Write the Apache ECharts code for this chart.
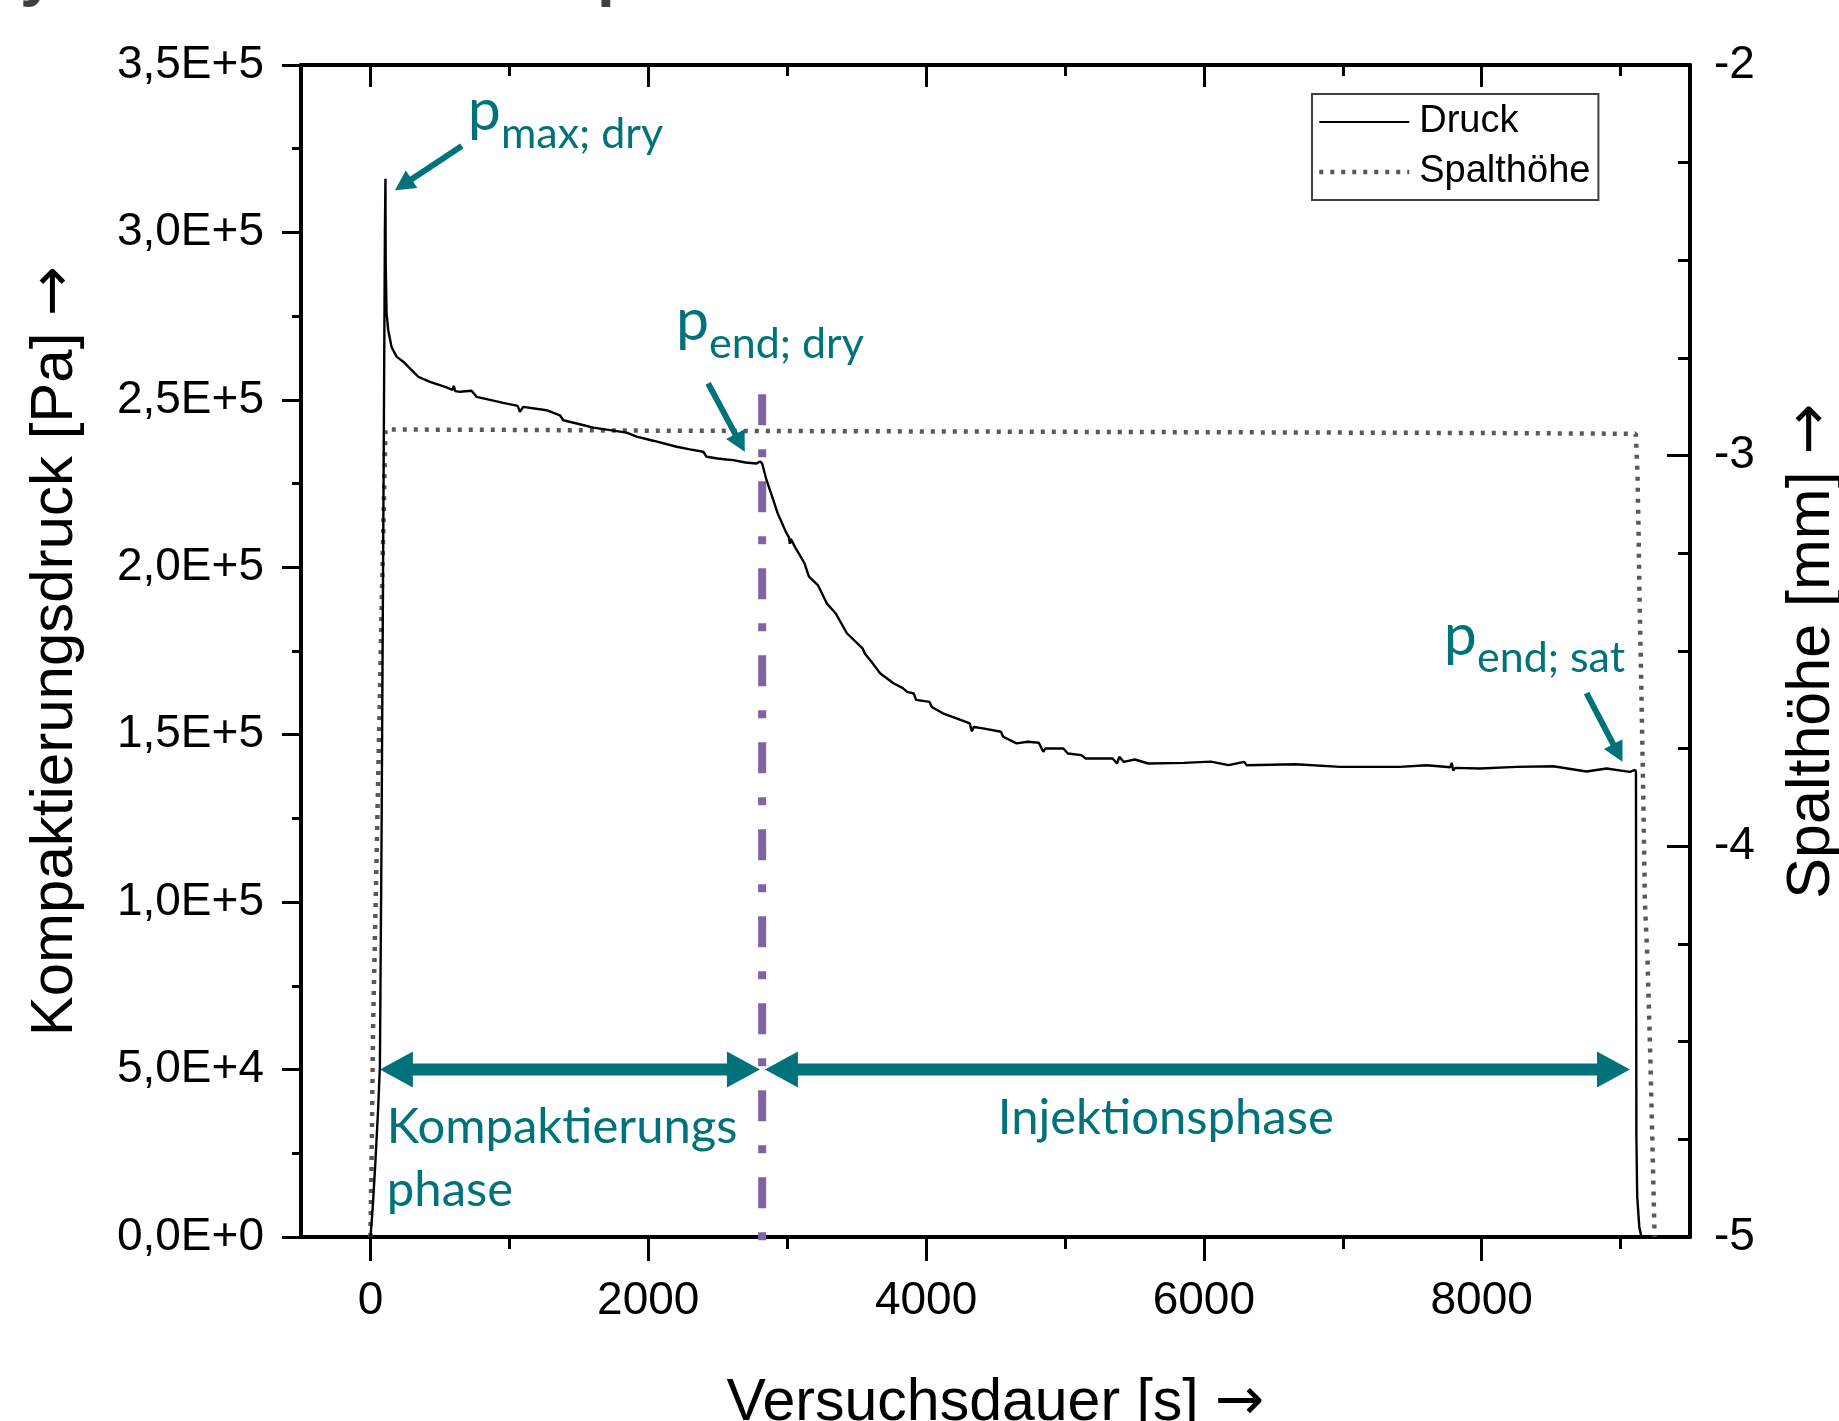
<!DOCTYPE html>
<html>
<head>
<meta charset="utf-8">
<title>Kompaktierungsdruck und Spalthöhe</title>
<script src="https://cdn.jsdelivr.net/npm/echarts@6/dist/echarts.min.js"></script>
<style>
  html, body { margin: 0; padding: 0; background: #fff; }
  #chart { width: 1839px; height: 1421px; }
</style>
</head>
<body>
<div id="chart"></div>
<script>
// Druck [s, Pa]
const druckSeries = [
  [0, 0], [15, 8000], [35, 22000], [55, 38000], [68, 50800], [80, 120000], [95, 230000],
  [104, 300000], [108, 316000], [110, 290000], [116, 276000], [128, 270800], [152, 265800],
  [188, 262900], [236, 261400], [284, 259400], [344, 256900], [428, 255400], [548, 253700],
  [590, 253000], [600, 254200], [610, 252600], [644, 252400], [728, 252700], [764, 250900],
  [860, 250000], [956, 249100], [1060, 248200], [1076, 246400], [1100, 247900], [1268, 246900],
  [1364, 245400], [1388, 243900], [1500, 242800], [1604, 241700], [1700, 241100], [1844, 240200],
  [1916, 239000], [2036, 237800], [2204, 236000], [2300, 235200], [2396, 234500], [2420, 233000],
  [2500, 232500], [2564, 232200], [2612, 232000], [2700, 231300], [2780, 231000], [2804, 231600],
  [2820, 231000], [2852, 226000], [2900, 220100], [2932, 216100], [2996, 210100], [3012, 209000],
  [3020, 207000], [3026, 208500], [3060, 205800], [3125, 201200], [3157, 197200], [3221, 194700],
  [3286, 189200], [3350, 186200], [3430, 180300], [3543, 175800], [3560, 174200], [3607, 171800],
  [3671, 168300], [3768, 165300], [3830, 164000], [3864, 162800], [3912, 162300], [3928, 160400],
  [4025, 159800], [4041, 158300], [4121, 156400], [4282, 153900], [4314, 153400], [4330, 151000],
  [4344, 152300], [4410, 151900], [4539, 150900], [4555, 149400], [4652, 147400], [4732, 147900],
  [4812, 147600], [4844, 144900], [4860, 145900], [4989, 145900], [5021, 144400], [5118, 143900],
  [5150, 142900], [5343, 142900], [5375, 141400], [5391, 143400], [5423, 141900], [5503, 142600],
  [5600, 141400], [5857, 141600], [6050, 141950], [6178, 140900], [6291, 141900], [6307, 140900],
  [6660, 141200], [6982, 140400], [7303, 140400], [7411, 140400], [7603, 140900], [7775, 140300],
  [7785, 141600], [7795, 139300], [7810, 140100], [7987, 139900], [8251, 140400], [8515, 140600],
  [8755, 139000], [8899, 139900], [9067, 138900], [9105, 139500], [9111, 138900], [9112, 100000],
  [9114, 30000], [9120, 12000], [9135, 3000], [9150, 0]
];

// Spalthöhe [s, mm]
const spaltSeries = [
  [0, -5.0], [10, -4.75], [19, -4.46], [40, -4.1], [60, -3.75], [80, -3.4], [95, -3.15],
  [104, -3.0], [108, -2.933], [1000, -2.934], [2000, -2.936], [3000, -2.937], [4000, -2.938],
  [5000, -2.939], [6000, -2.94], [7000, -2.941], [8000, -2.942], [9110, -2.944], [9122, -3.05],
  [9130, -3.2], [9136, -3.35], [9150, -3.6], [9165, -3.9], [9175, -4.14], [9195, -4.3],
  [9215, -4.55], [9232, -4.8], [9245, -5.0]
];

const xMajorTicks = [0, 2000, 4000, 6000, 8000];
const xMinorTicks = [1000, 3000, 5000, 7000, 9000];
const druckTickLabels = ['0,0E+0', '5,0E+4', '1,0E+5', '1,5E+5', '2,0E+5', '2,5E+5', '3,0E+5', '3,5E+5'];

// phase boundary (purple) and annotations, in data coordinates (s, Pa)
const phaseBoundary = [[2820, 251700], [2820, -3900]];
const phaseArrows = [[[68, 50000], [2804, 50000]], [[2840, 50000], [9068, 50000]]];
const pointMain = ['p', 'p', 'p'];
const pointSub = ['max; dry', 'end; dry', 'end; sat'];
const pointLabelAt = [[701, 331000], [2199, 268300], [7728, 174300]];
const pointArrowFrom = [[658, 325800], [2431, 254900], [8755, 162400]];
const pointArrowTo = [[176, 312600], [2695, 234500], [9014, 141900]];
const phaseLabels = ['Kompaktierungs', 'phase', 'Injektionsphase'];
const phaseLabelAt = [[118, 28460], [118, 9555], [5726, 31050]];
const phaseLabelAlign = ['left', 'left', 'center'];

const TEAL = '#00737A';
const PURPLE = '#8064A2';
const DOTS = '#595959';
const AXIS_FONT = 'Liberation Sans';
const NOTE_FONT = 'Lato';

const chart = echarts.init(document.getElementById('chart'));

const xBase = { type: 'value', min: -500, max: 9500, splitLine: { show: false } };
const tickLine = { color: '#000', width: 3 };
const nameStyle = size => ({
  fontSize: size, color: '#000', fontFamily: AXIS_FONT,
  rich: { a: { fontFamily: 'DejaVu Sans', fontSize: size, color: '#000' } }
});
const dotted = { color: DOTS, width: 4.5, type: [4, 7], cap: 'butt' };

chart.setOption({
  animation: false,
  backgroundColor: '#fff',
  textStyle: { fontFamily: AXIS_FONT },
  grid: { left: 301, right: 149, top: 65, bottom: 184, containLabel: false, outerBoundsMode: 'none' },
  legend: {
    orient: 'vertical',
    left: 1312,
    top: 94,
    data: [
      { name: 'Druck', lineStyle: { color: '#000', width: 2 } },
      { name: 'Spalthöhe', lineStyle: dotted }
    ],
    itemWidth: 90,
    itemHeight: 30,
    itemGap: 12,
    padding: [9, 8, 9, 5],
    borderColor: '#404040',
    borderWidth: 2,
    backgroundColor: '#fff',
    itemStyle: { opacity: 0 },
    textStyle: { fontSize: 38, color: '#000', fontFamily: AXIS_FONT, padding: [0, 0, 0, 5] }
  },
  xAxis: [
    Object.assign({}, xBase, {
      position: 'bottom',
      axisLine: { show: true, onZero: false, lineStyle: { color: '#000', width: 4 } },
      axisTick: { show: true, customValues: xMajorTicks, length: 24, lineStyle: tickLine },
      axisLabel: { customValues: xMajorTicks, fontSize: 46, color: '#000', margin: 41, formatter: v => String(v) },
      name: 'Versuchsdauer [s] {a|→}',
      nameLocation: 'middle',
      nameGap: 137,
      nameTextStyle: nameStyle(59)
    }),
    Object.assign({}, xBase, {
      position: 'bottom',
      axisLine: { show: false },
      axisTick: { show: true, customValues: xMinorTicks, length: 12, lineStyle: tickLine },
      axisLabel: { show: false }
    }),
    Object.assign({}, xBase, {
      position: 'top',
      axisLine: { show: true, onZero: false, lineStyle: { color: '#000', width: 4 } },
      axisTick: { show: true, inside: true, customValues: xMajorTicks, length: 22, lineStyle: tickLine },
      axisLabel: { show: false }
    }),
    Object.assign({}, xBase, {
      position: 'top',
      axisLine: { show: false },
      axisTick: { show: true, inside: true, customValues: xMinorTicks, length: 11, lineStyle: tickLine },
      axisLabel: { show: false }
    })
  ],
  yAxis: [
    {
      type: 'value',
      position: 'left',
      min: 0,
      max: 350000,
      interval: 50000,
      splitLine: { show: false },
      axisLine: { show: true, onZero: false, lineStyle: { color: '#000', width: 4 } },
      axisTick: { show: true, length: 19, lineStyle: tickLine },
      minorTick: { show: true, splitNumber: 2, length: 9, lineStyle: tickLine },
      axisLabel: {
        fontSize: 46,
        color: '#000',
        margin: 37,
        formatter: v => druckTickLabels[Math.round(v / 50000)]
      },
      name: 'Kompaktierungsdruck [Pa] {a|→}',
      nameLocation: 'middle',
      nameRotate: 90,
      nameGap: 216,
      nameTextStyle: nameStyle(60)
    },
    {
      type: 'value',
      position: 'right',
      min: -5,
      max: -2,
      interval: 1,
      splitLine: { show: false },
      axisLine: { show: true, onZero: false, lineStyle: { color: '#000', width: 4 } },
      axisTick: { show: true, inside: true, length: 23, lineStyle: tickLine },
      minorTick: { show: true, splitNumber: 4, length: 12, lineStyle: tickLine },
      axisLabel: { fontSize: 46, color: '#000', margin: 24 },
      name: 'Spalthöhe [mm] {a|→}',
      nameLocation: 'middle',
      nameRotate: 90,
      nameGap: 92,
      nameTextStyle: nameStyle(61)
    }
  ],
  series: [
    {
      name: 'Spalthöhe',
      type: 'line',
      xAxisIndex: 0,
      yAxisIndex: 1,
      data: spaltSeries,
      symbol: 'none',
      z: 2,
      itemStyle: { color: DOTS },
      lineStyle: dotted
    },
    {
      name: 'Druck',
      type: 'line',
      xAxisIndex: 0,
      yAxisIndex: 0,
      data: druckSeries,
      symbol: 'none',
      z: 3,
      itemStyle: { color: '#000' },
      lineStyle: { color: '#000', width: 2.4 }
    },
    {
      name: 'Phasengrenze',
      type: 'line',
      xAxisIndex: 0,
      yAxisIndex: 0,
      data: phaseBoundary,
      symbol: 'none',
      clip: false,
      silent: true,
      z: 4,
      itemStyle: { color: PURPLE },
      lineStyle: { color: PURPLE, width: 8, type: [31, 24, 8, 24] }
    }
  ]
});

// annotations placed from data coordinates
const toPx = p => chart.convertToPixel({ xAxisIndex: 0, yAxisIndex: 0 }, p);
const measure = document.createElement('canvas').getContext('2d');
const textWidth = (txt, font) => { measure.font = font; return measure.measureText(txt).width; };

function arrowPoints(a, b, shaft, headLen, headW, both) {
  const dx = b[0] - a[0], dy = b[1] - a[1], len = Math.hypot(dx, dy);
  const ux = dx / len, uy = dy / len, nx = -uy, ny = ux;
  const P = (p, s, t) => [p[0] + ux * s + nx * t, p[1] + uy * s + ny * t];
  const pts = [];
  if (both) pts.push(a, P(a, headLen, headW / 2), P(a, headLen, shaft / 2));
  else pts.push(P(a, 0, shaft / 2));
  pts.push(P(b, -headLen, shaft / 2), P(b, -headLen, headW / 2), b,
    P(b, -headLen, -headW / 2), P(b, -headLen, -shaft / 2));
  if (both) pts.push(P(a, headLen, -shaft / 2), P(a, headLen, -headW / 2));
  else pts.push(P(a, 0, -shaft / 2));
  return pts;
}

// text drawn with middle baseline; shift so the alphabetic baseline lands where read
const baselineText = (txt, x, baseline, size, align) => ({
  type: 'text',
  x: x,
  y: baseline - size * 0.30,
  z: 10,
  style: { text: txt, fill: TEAL, fontSize: size, fontFamily: NOTE_FONT, align: align || 'left', verticalAlign: 'middle' }
});

const graphics = [];

phaseArrows.forEach(([a, b]) => {
  graphics.push({ type: 'polygon', z: 1, shape: { points: arrowPoints(toPx(a), toPx(b), 12, 33, 36, true) }, style: { fill: TEAL } });
});

pointMain.forEach((m, i) => {
  const at = toPx(pointLabelAt[i]);
  graphics.push(baselineText(m, at[0], at[1], 59));
  const w = textWidth(m, '59px ' + NOTE_FONT);
  graphics.push(baselineText(pointSub[i], at[0] + w, at[1] + 18, 43));
  graphics.push({
    type: 'polygon', z: 10,
    shape: { points: arrowPoints(toPx(pointArrowFrom[i]), toPx(pointArrowTo[i]), 6, 20, 21, false) },
    style: { fill: TEAL }
  });
});

phaseLabels.forEach((t, i) => {
  const at = toPx(phaseLabelAt[i]);
  graphics.push(baselineText(t, at[0], at[1], 49, phaseLabelAlign[i]));
});

// fragments of the slide title cut off at the top edge
graphics.push({ type: 'text', x: 20, y: -24, style: { text: 'y', fill: '#3F3F3F', fontSize: 64, fontWeight: 'bold', fontFamily: AXIS_FONT, verticalAlign: 'middle' } });
graphics.push({ type: 'text', x: 597, y: -24, style: { text: 'p', fill: '#3F3F3F', fontSize: 64, fontWeight: 'bold', fontFamily: AXIS_FONT, verticalAlign: 'middle' } });

chart.setOption({ graphic: graphics });
</script>
</body>
</html>
